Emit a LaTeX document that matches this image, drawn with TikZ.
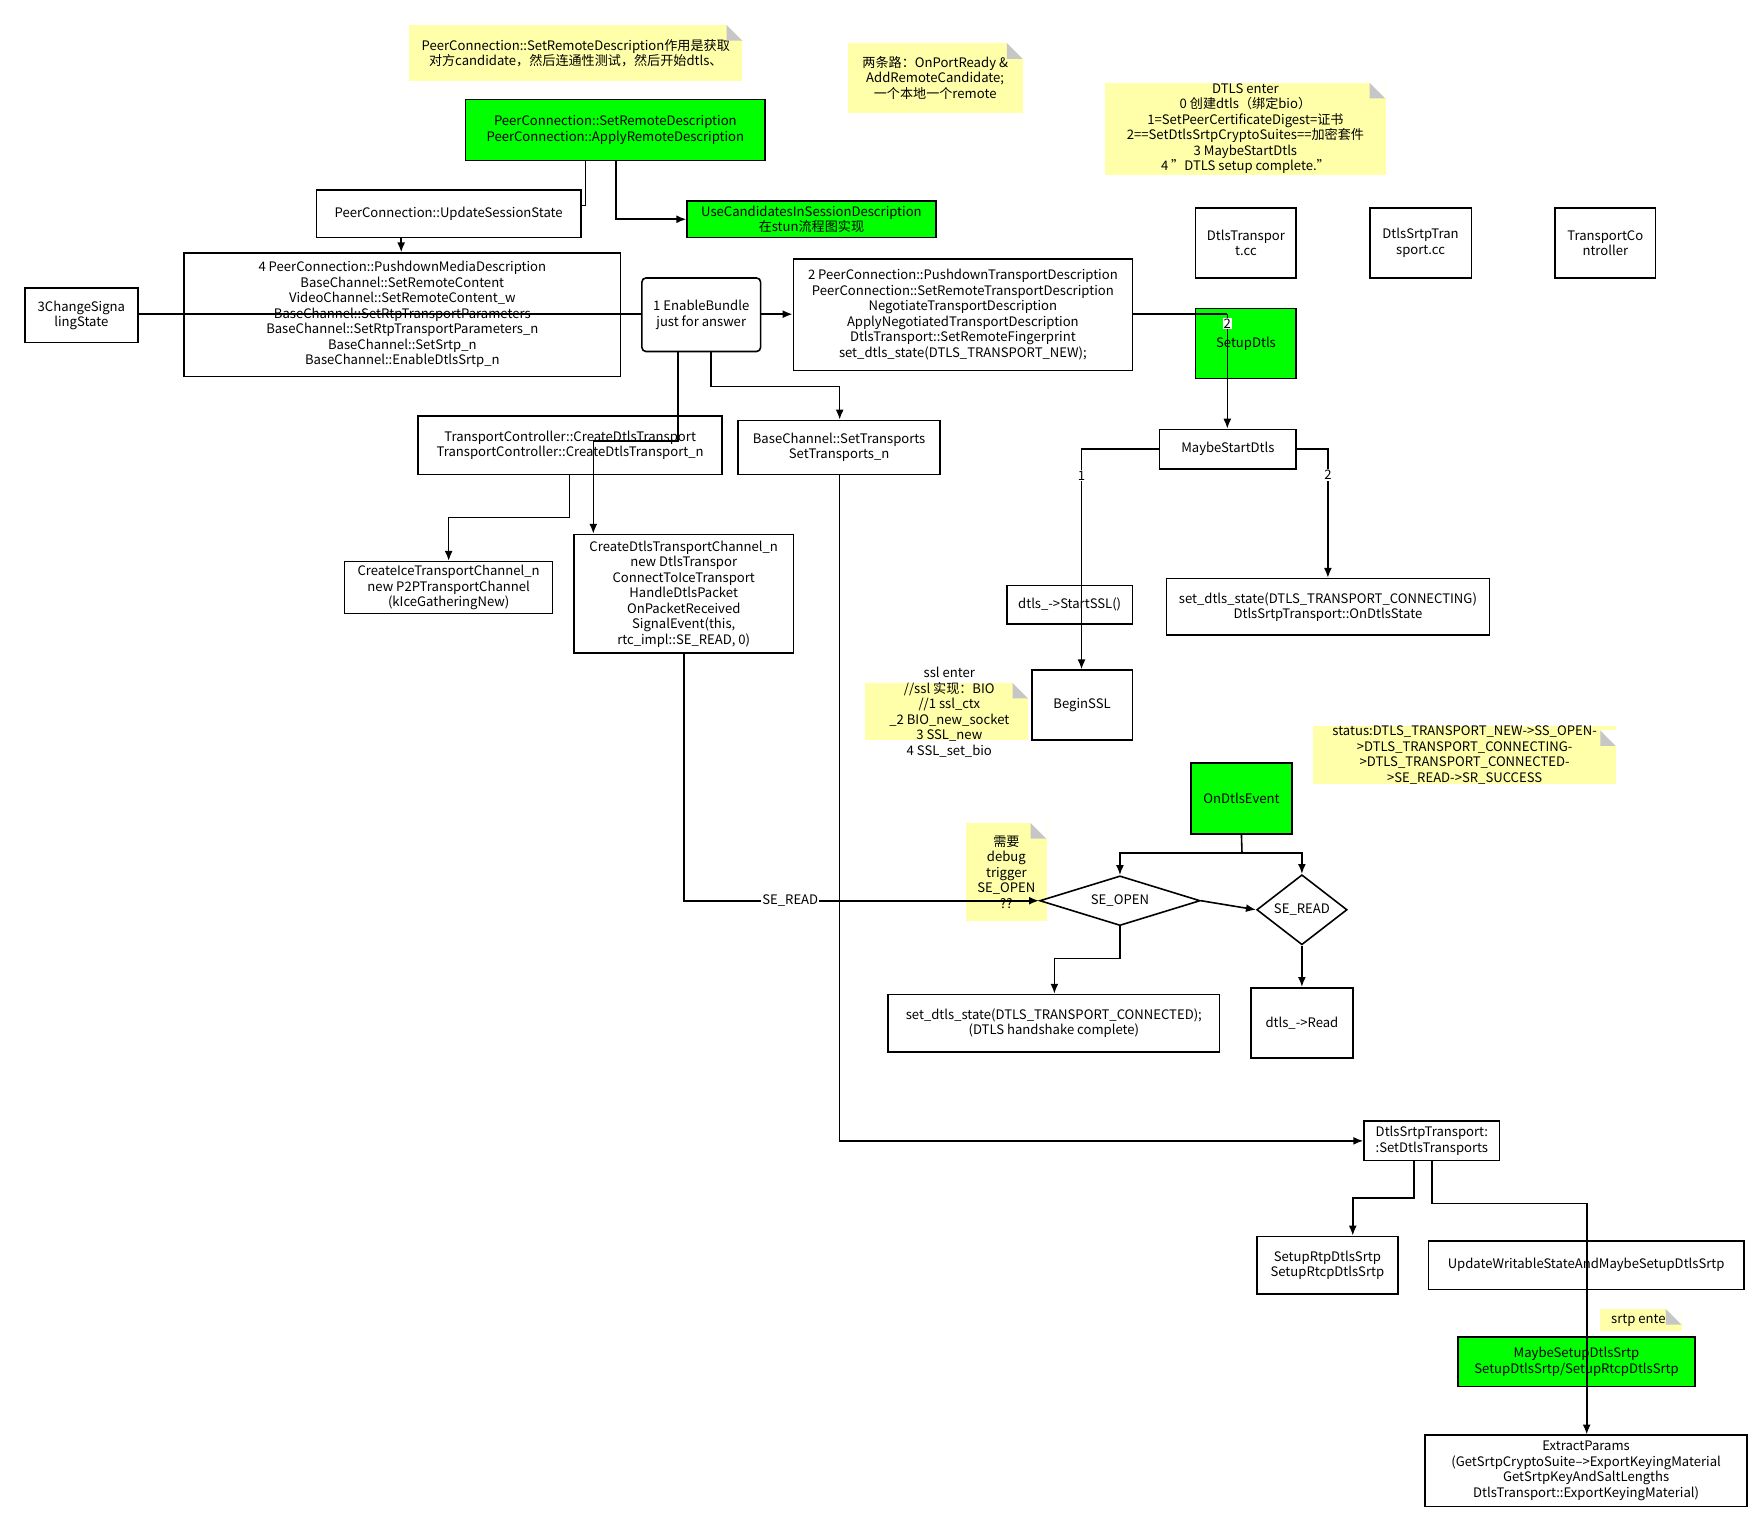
\documentclass[tikz,border=0pt]{standalone}
\usepackage{fontspec}
\setmainfont{Noto Sans CJK SC}
\usetikzlibrary{arrows.meta,shapes.geometric}
\definecolor{ng}{HTML}{00FF00}
\definecolor{ny}{HTML}{FFFFAA}
\tikzset{
 bx/.style={draw,line width=0.8pt,fill=white,align=center,inner sep=0pt},
 gbx/.style={bx,fill=ng},
 nt/.style={fill=ny,align=center,inner sep=0pt},
 ar/.style={line width=0.8pt,-{Latex[length=5pt,width=4pt]}},
 ln/.style={line width=0.8pt},
 lb/.style={fill=white,inner sep=0.5pt,font=\fontsize{6.6}{7.8}\selectfont},
}
\newcommand\bx[7]{\node[#6,minimum width={(#4-#2)*0.02cm},minimum height={(#5-#3)*0.02cm}] (#1) at ({(#2+#4)/2},{(#3+#5)/2}) {#7};}
\newcommand\fold[2]{\fill[gray!45] (#1-14,#2) -- (#1,#2+14) -- (#1-14,#2+14) -- cycle;\fill[white] (#1-14,#2) -- (#1,#2) -- (#1,#2+14) -- cycle;}
\begin{document}
\begin{tikzpicture}[x=0.02cm,y=-0.02cm,font=\fontsize{6.6}{7.8}\selectfont]
\useasboundingbox[fill=white] (0,0) rectangle (1560,1349);
% notes
\bx{n1}{362}{22}{657}{72}{nt}{PeerConnection::SetRemoteDescription作用是获取\\对方candidate，然后连通性测试，然后开始dtls、}\fold{657}{22}
\bx{n2}{750}{38}{905}{100}{nt}{两条路：OnPortReady \&\\AddRemoteCandidate;\\一个本地一个remote}\fold{905}{38}
\bx{n3}{978}{73}{1226}{155}{nt}{DTLS enter\\0 创建dtls（绑定bio）\\1=SetPeerCertificateDigest=证书\\2==SetDtlsSrtpCryptoSuites==加密套件\\3 MaybeStartDtls\\4 "DTLS setup complete."}\fold{1226}{73}
\bx{ssln}{765}{604}{910}{655}{nt}{}\fold{910}{604}
\node[align=center,inner sep=0] (sslt) at (840,630) {ssl enter\\//ssl 实现：BIO\\//1 ssl\_ctx\\\_2 BIO\_new\_socket\\3 SSL\_new\\4 SSL\_set\_bio};
\bx{stn}{1162}{646}{1430}{690}{nt}{status:DTLS\_TRANSPORT\_NEW->SS\_OPEN-\\>DTLS\_TRANSPORT\_CONNECTING-\\>DTLS\_TRANSPORT\_CONNECTED-\\>SE\_READ->SR\_SUCCESS}\fold{1430}{646}
\bx{dbn}{855}{728}{926}{815}{nt}{需要\\debug\\trigger\\SE\_OPEN\\??}\fold{926}{728}
\bx{srn}{1416}{1158}{1488}{1178}{nt}{srtp enter}\fold{1488}{1158}
% boxes
\bx{g1}{412}{88}{677}{142}{gbx}{PeerConnection::SetRemoteDescription\\PeerConnection::ApplyRemoteDescription}
\bx{upd}{280}{168}{514}{210}{bx}{PeerConnection::UpdateSessionState}
\bx{uc}{608}{178}{828}{210}{gbx}{UseCandidatesInSessionDescription\\在stun流程图实现}
\bx{pm}{163}{224}{549}{333}{bx}{4 PeerConnection::PushdownMediaDescription\\BaseChannel::SetRemoteContent\\VideoChannel::SetRemoteContent\_w\\BaseChannel::SetRtpTransportParameters\\BaseChannel::SetRtpTransportParameters\_n\\BaseChannel::SetSrtp\_n\\BaseChannel::EnableDtlsSrtp\_n}
\bx{cs}{22}{255}{122}{303}{bx}{3ChangeSigna\\lingState}
\bx{en}{568}{246}{673}{311}{bx,rounded corners=2pt}{1 EnableBundle\\just for answer}
\bx{pt}{702}{229}{1002}{328}{bx}{2 PeerConnection::PushdownTransportDescription\\PeerConnection::SetRemoteTransportDescription\\NegotiateTransportDescription\\ApplyNegotiatedTransportDescription\\DtlsTransport::SetRemoteFingerprint\\set\_dtls\_state(DTLS\_TRANSPORT\_NEW);}
\bx{f1}{1058}{184}{1147}{246}{bx}{DtlsTranspor\\t.cc}
\bx{f2}{1212}{184}{1302}{246}{bx}{DtlsSrtpTran\\sport.cc}
\bx{f3}{1376}{184}{1465}{246}{bx}{TransportCo\\ntroller}
\bx{sd}{1058}{273}{1147}{335}{gbx}{SetupDtls}
\bx{ms}{1026}{380}{1147}{415}{bx}{MaybeStartDtls}
\bx{tc}{370}{368}{639}{420}{bx}{TransportController::CreateDtlsTransport\\TransportController::CreateDtlsTransport\_n}
\bx{st}{653}{372}{832}{420}{bx}{BaseChannel::SetTransports\\SetTransports\_n}
\bx{ci}{305}{497}{489}{543}{bx}{CreateIceTransportChannel\_n\\new P2PTransportChannel\\(kIceGatheringNew)}
\bx{cd}{508}{473}{702}{578}{bx}{CreateDtlsTransportChannel\_n\\new DtlsTranspor\\ConnectToIceTransport\\HandleDtlsPacket\\OnPacketReceived\\SignalEvent(this,\\rtc\_impl::SE\_READ, 0)}
\bx{ss}{891}{518}{1002}{552}{bx}{dtls\_->StartSSL()}
\bx{cn}{1032}{512}{1318}{562}{bx}{set\_dtls\_state(DTLS\_TRANSPORT\_CONNECTING)\\DtlsSrtpTransport::OnDtlsState}
\bx{bs}{913}{593}{1002}{655}{bx}{BeginSSL}
\bx{od}{1054}{675}{1143}{738}{gbx}{OnDtlsEvent}
\node[draw,line width=0.8pt,fill=white,diamond,aspect=3.2,minimum width=142*0.02cm,minimum height=44*0.02cm,inner sep=0] (so) at (991,797) {SE\_OPEN};
\node[draw,line width=0.8pt,fill=white,diamond,minimum width=80*0.02cm,minimum height=62*0.02cm,inner sep=0] (sr) at (1152,805) {SE\_READ};
\bx{cc}{786}{880}{1079}{931}{bx}{set\_dtls\_state(DTLS\_TRANSPORT\_CONNECTED);\\(DTLS handshake complete)}
\bx{rd}{1107}{874}{1197}{936}{bx}{dtls\_->Read}
\bx{dst}{1207}{992}{1327}{1027}{bx}{DtlsSrtpTransport:\\:SetDtlsTransports}
\bx{sr2}{1112}{1094}{1237}{1145}{bx}{SetupRtpDtlsSrtp\\SetupRtcpDtlsSrtp}
\bx{uw}{1264}{1098}{1543}{1141}{bx}{UpdateWritableStateAndMaybeSetupDtlsSrtp}
\bx{msd}{1290}{1183}{1500}{1227}{gbx}{MaybeSetupDtlsSrtp\\SetupDtlsSrtp/SetupRtcpDtlsSrtp}
\bx{ex}{1261}{1270}{1546}{1333}{bx}{ExtractParams\\(GetSrtpCryptoSuite-->ExportKeyingMaterial\\GetSrtpKeyAndSaltLengths\\DtlsTransport::ExportKeyingMaterial)}
% edges
\draw[ln] (518,0 |- g1.south) |- (upd.east |- 0,182);
\draw[ar] (355,0 |- upd.south) -- (355,0 |- pm.north);
\draw[ar] (545,0 |- g1.south) |- (uc.west);
\draw[ln] (cs.east |- 0,278) -- (en.west |- 0,278);
\draw[ar] (en.east |- 0,278) -- (pt.west |- 0,278);
\draw[ln] (pt.east |- 0,278) -- (1086,278);
\draw[ar] (1086,278) -- node[pos=0.08,lb]{2} (1086,0 |- ms.north);
\draw[ln] (600,0 |- en.south) -- (600,390) -- (525,390);
\draw[ar] (525,390) -- (525,0 |- cd.north);
\draw[ar] (629,0 |- en.south) |- (743,342) -- (743,0 |- st.north);
\draw[ar] (504,0 |- tc.south) |- (397,458) -- (397,0 |- ci.north);
\draw[ar] (605,0 |- cd.south) |- node[pos=0.65,lb]{SE\_READ} (so.west);
\draw[ar] (743,0 |- st.south) |- (dst.west);
\draw[ar] (ms.west) -| node[pos=0.56,lb]{1} (957,0 |- bs.north);
\draw[ar] (ms.east) -| node[pos=0.6,lb]{2} (1175,0 |- cn.north);
\draw[ln] (od.south) -- (1099,755);
\draw[ar] (1099,755) -| (so.north);
\draw[ar] (1099,755) -| (sr.north);
\draw[ar] (so.east) -- (sr.west);
\draw[ar] (so.south) |- (933,848) -- (933,0 |- cc.north);
\draw[ar] (sr.south) -- (1152,0 |- rd.north);
\draw[ar] (1251,0 |- dst.south) |- (1197,1060) -- (1197,0 |- sr2.north);
\draw[ar] (1267,0 |- dst.south) |- (1404,1065) -- (1404,0 |- ex.north);
\end{tikzpicture}
\end{document}
